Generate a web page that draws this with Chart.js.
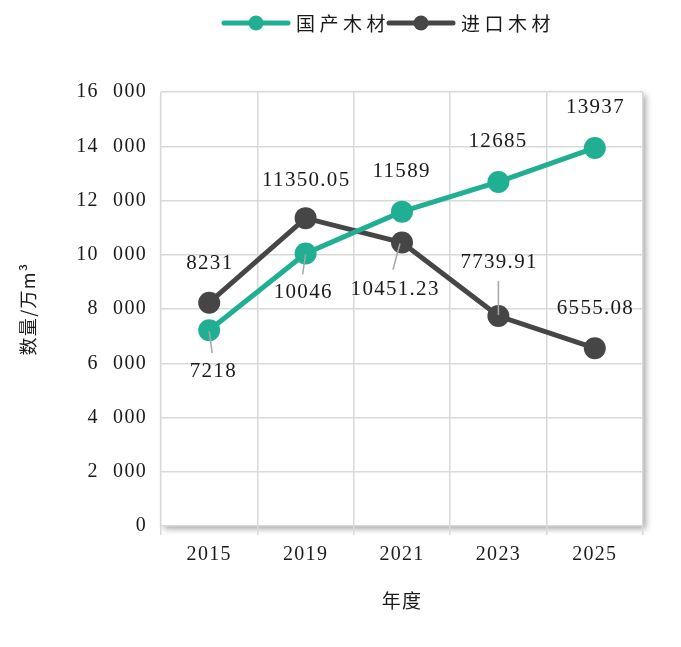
<!DOCTYPE html>
<html>
<head>
<meta charset="utf-8">
<script src="https://cdn.jsdelivr.net/npm/chart.js@4.4.0/dist/chart.umd.min.js"></script>
<style>
html,body{margin:0;padding:0;background:#fff;}
#wrap{width:681px;height:647px;position:relative;}
</style>
</head>
<body>
<div id="wrap"><canvas id="c" width="681" height="647"></canvas></div>
<script>
const categories = ['2015', '2019', '2021', '2023', '2025'];
const domesticValues = [7218, 10046, 11589, 12685, 13937];
const importedValues = [8231, 11350.05, 10451.23, 7739.91, 6555.08];
const seriesNames = ['国产木材', '进口木材'];
const yTickValues = [0, 2000, 4000, 6000, 8000, 10000, 12000, 14000, 16000];
const xAxisTitle = '年度';
const yAxisTitle = '数量/万m³';

const GREEN = '#21AF93';
const DARK = '#464646';
const NUM_FONT = '"Liberation Serif", "Noto Sans CJK SC", serif';
const CJK_FONT = '"Noto Sans CJK SC", "Liberation Serif", sans-serif';

function fmtTick(v) {
  if (v < 1000) return String(v);
  const s = String(v);
  return s.slice(0, s.length - 3) + '\u2002\u200A' + s.slice(s.length - 3);
}

// label placements relative to each point (style only)
const placements = [
  [
    {dx: 3.5, dy: 41, leader: [0, 1, 3, 23]},
    {dx: -3, dy: 39, leader: [0, 1, -3, 21]},
    {dx: -1, dy: -40},
    {dx: -1, dy: -40},
    {dx: 0, dy: -40}
  ],
  [
    {dx: 0, dy: -39},
    {dx: 0, dy: -38},
    {dx: -7.5, dy: 46.5, leader: [-2, 1, -9, 27]},
    {dx: 0, dy: -54, leader: [0, -1, 0, -35]},
    {dx: 0, dy: -40}
  ]
];

const frameShadow = {
  id: 'frameShadow',
  beforeDraw(chart) {
    const {ctx, chartArea: a} = chart;
    ctx.save();
    ctx.fillStyle = '#ffffff';
    ctx.shadowColor = 'rgba(0,0,0,0.35)';
    ctx.shadowBlur = 6;
    ctx.shadowOffsetX = 3;
    ctx.shadowOffsetY = 3;
    ctx.fillRect(a.left, a.top, a.right - a.left, a.bottom - a.top);
    ctx.restore();
    ctx.letterSpacing = '1.3px';
  }
};

const valueLabels = {
  id: 'valueLabels',
  afterDatasetsDraw(chart) {
    const ctx = chart.ctx;
    ctx.save();
    ctx.letterSpacing = '1.3px';
    ctx.font = '21px ' + NUM_FONT;
    ctx.textAlign = 'center';
    ctx.textBaseline = 'middle';
    chart.data.datasets.forEach((ds, di) => {
      const meta = chart.getDatasetMeta(di);
      meta.data.forEach((pt, i) => {
        const p = placements[di][i];
        if (p.leader) {
          ctx.strokeStyle = '#a6a6a6';
          ctx.lineWidth = 1.5;
          ctx.beginPath();
          ctx.moveTo(pt.x + p.leader[0], pt.y + p.leader[1]);
          ctx.lineTo(pt.x + p.leader[2], pt.y + p.leader[3]);
          ctx.stroke();
        }
        ctx.fillStyle = '#1a1a1a';
        ctx.fillText(String(ds.data[i]), pt.x + p.dx + 0.65, pt.y + p.dy);
      });
    });
    ctx.restore();
  }
};

const customLegend = {
  id: 'customLegend',
  afterDraw(chart) {
    const ctx = chart.ctx;
    ctx.save();
    ctx.letterSpacing = '4.5px';
    ctx.font = '19px ' + CJK_FONT;
    ctx.textBaseline = 'middle';
    ctx.textAlign = 'left';
    const y = 23;
    const items = chart.data.datasets.map(d => ({label: d.label, color: d.borderColor}));
    let x = 224;
    items.forEach(it => {
      ctx.strokeStyle = it.color;
      ctx.lineWidth = 5;
      ctx.lineCap = 'round';
      ctx.beginPath();
      ctx.moveTo(x, y);
      ctx.lineTo(x + 64, y);
      ctx.stroke();
      ctx.fillStyle = it.color;
      ctx.beginPath();
      ctx.arc(x + 32, y, 7.5, 0, Math.PI * 2);
      ctx.fill();
      ctx.fillStyle = '#1a1a1a';
      ctx.fillText(it.label, x + 72, y + 1);
      x += 72 + ctx.measureText(it.label).width - 1;
    });
    ctx.restore();
  }
};

new Chart(document.getElementById('c'), {
  type: 'line',
  data: {
    labels: categories,
    datasets: [
      {
        label: seriesNames[0],
        data: domesticValues,
        borderColor: GREEN,
        backgroundColor: GREEN,
        borderWidth: 5,
        pointRadius: 11,
        pointHoverRadius: 11,
        pointBorderWidth: 0,
        tension: 0
      },
      {
        label: seriesNames[1],
        data: importedValues,
        borderColor: DARK,
        backgroundColor: DARK,
        borderWidth: 5,
        pointRadius: 11,
        pointHoverRadius: 11,
        pointBorderWidth: 0,
        tension: 0
      }
    ]
  },
  options: {
    responsive: false,
    animation: false,
    devicePixelRatio: 1,
    layout: {padding: {top: 92, right: 38, bottom: 0, left: 0}},
    plugins: {
      legend: {display: false},
      tooltip: {enabled: false}
    },
    scales: {
      x: {
        offset: true,
        grid: {offset: true, color: '#d9d9d9', lineWidth: 1.5, tickLength: 9, drawTicks: true},
        border: {display: false},
        ticks: {color: '#1a1a1a', font: {family: NUM_FONT, size: 20}, padding: 8, maxRotation: 0},
        title: {display: true, text: xAxisTitle, color: '#1a1a1a', font: {family: CJK_FONT, size: 19}, padding: {top: 0, bottom: 35}},
        afterFit(scale) { scale.height = 121; }
      },
      y: {
        min: 0,
        max: 16000,
        afterBuildTicks(scale) { scale.ticks = yTickValues.map(v => ({value: v})); },
        grid: {color: '#d9d9d9', lineWidth: 1.5, drawTicks: false},
        border: {display: false},
        ticks: {color: '#1a1a1a', font: {family: NUM_FONT, size: 20}, padding: 14, callback: v => fmtTick(v)},
        title: {display: true, text: yAxisTitle, color: '#1a1a1a', font: {family: CJK_FONT, size: 18}, padding: {top: 17, bottom: 0}},
        afterFit(scale) { scale.width = 161; }
      }
    }
  },
  plugins: [frameShadow, valueLabels, customLegend]
});
</script>
</body>
</html>
